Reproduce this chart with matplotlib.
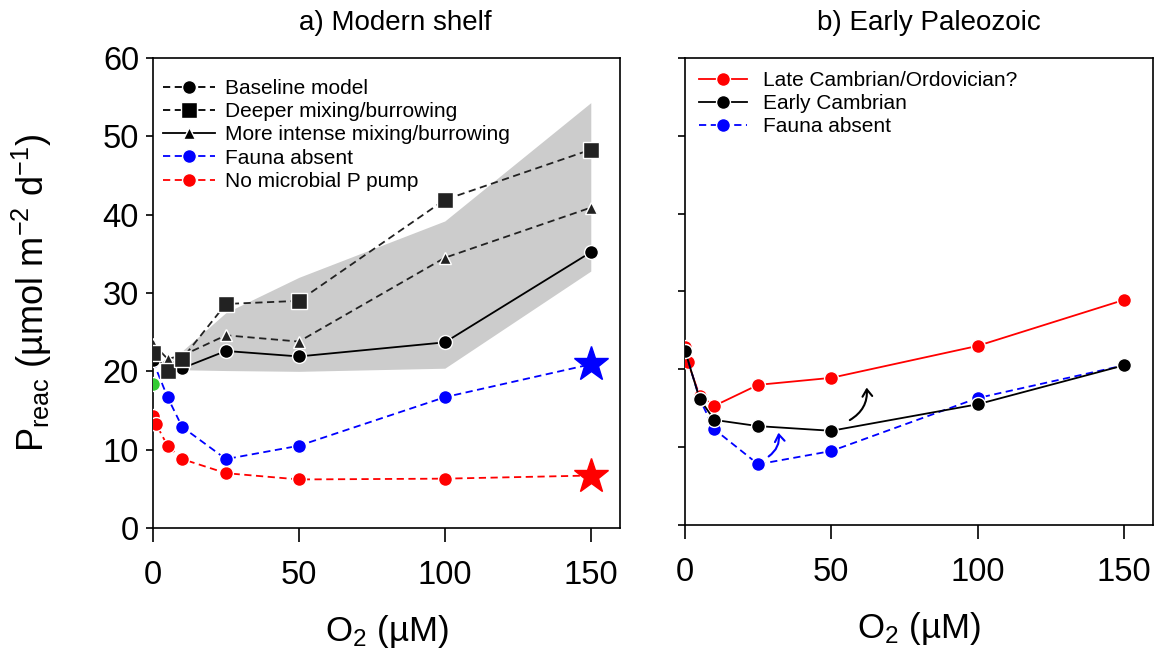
import matplotlib
matplotlib.use("Agg")
import matplotlib.pyplot as plt
from matplotlib.lines import Line2D
from matplotlib.patches import FancyArrowPatch

plt.rcParams['font.family'] = ['Liberation Sans', 'DejaVu Sans']
plt.rcParams['mathtext.default'] = 'regular'

# --- a) Modern shelf ---
o2 = [0, 5, 10, 25, 50, 100, 150]
baseline = [21.4, 20.8, 20.4, 22.6, 21.9, 23.7, 35.2]
deeper = [22.3, 20.1, 21.6, 28.6, 29.0, 41.9, 48.3]
intense = [23.5, 21.6, 22.0, 24.6, 23.8, 34.5, 40.9]

band_x = [5, 10, 25, 50, 100, 150]
band_lo = [20.8, 20.2, 20.1, 20.0, 20.4, 32.8]
band_hi = [21.2, 22.6, 27.5, 32.0, 39.2, 54.3]

fauna_x = [0, 5, 10, 25, 50, 100, 150]
fauna = [21.3, 16.7, 12.9, 8.8, 10.5, 16.7, 20.9]
anoxic_pt = 18.4

nopump_x = [0, 1, 5, 10, 25, 50, 100, 150]
nopump = [14.3, 13.3, 10.5, 8.8, 7.0, 6.2, 6.3, 6.7]

# --- b) Early Paleozoic ---
late_x = [0, 1, 5, 10, 25, 50, 100, 150]
late_camb = [22.8, 20.9, 16.6, 15.3, 18.0, 18.9, 23.0, 28.9]
early_x = [0, 5, 10, 25, 50, 100, 150]
early_camb = [22.4, 16.2, 13.5, 12.7, 12.1, 15.5, 20.5]
absent_b = [22.4, 16.2, 12.3, 7.8, 9.5, 16.3, 20.5]

fig = plt.figure(figsize=(11.66, 6.66), dpi=100)
ax1 = fig.add_axes([0.1312, 0.2072, 0.4005, 0.7057])
ax2 = fig.add_axes([0.5875, 0.2117, 0.4014, 0.7015])

ms = 10
mk = dict(markeredgecolor='white', markeredgewidth=1.0)
dash = (0, (4, 2.5))

# panel a
ax1.fill_between(band_x, band_lo, band_hi, color='#cccccc', lw=0, zorder=1)
ax1.plot(nopump_x, nopump, color='red', ls=dash, lw=1.3, marker='o', ms=ms,
         markevery=list(range(len(nopump_x) - 1)), zorder=3, **mk)
ax1.plot([150], [nopump[-1]], ls='none', marker='*', ms=26, color='red', zorder=4)
ax1.plot(fauna_x, fauna, color='blue', ls=dash, lw=1.3, marker='o', ms=ms,
         markevery=list(range(1, len(fauna_x) - 1)), zorder=3, **mk)
ax1.plot([150], [fauna[-1]], ls='none', marker='*', ms=26, color='blue', zorder=4)
ax1.plot([0], [anoxic_pt], ls='none', marker='o', ms=ms, color='#33cc33', zorder=5, **mk)
ax1.plot(o2, baseline, color='black', lw=1.3, marker='o', ms=ms, zorder=5, **mk)
ax1.plot(o2, intense, color='#222222', ls=dash, lw=1.3, marker='^', ms=8, zorder=6, **mk)
ax1.plot(o2, deeper, color='#222222', ls=dash, lw=1.3, marker='s', ms=11, zorder=7, **mk)

h1 = [
    Line2D([], [], color='black', ls=dash, lw=1.3, marker='o', ms=ms, **mk),
    Line2D([], [], color='black', ls=dash, lw=1.3, marker='s', ms=11, **mk),
    Line2D([], [], color='black', lw=1.3, marker='^', ms=8, **mk),
    Line2D([], [], color='blue', ls=dash, lw=1.3, marker='o', ms=ms, **mk),
    Line2D([], [], color='red', ls=dash, lw=1.3, marker='o', ms=ms, **mk),
]
l1 = ["Baseline model", "Deeper mixing/burrowing", "More intense mixing/burrowing",
      "Fauna absent", "No microbial P pump"]
ax1.legend(h1, l1, loc='upper left', bbox_to_anchor=(0.022, 0.955), frameon=False,
           fontsize=15, handlelength=2.5, handletextpad=0.45, labelspacing=0.2,
           borderpad=0, borderaxespad=0)

# panel b
ax2.plot(late_x, late_camb, color='red', lw=1.3, marker='o', ms=ms, zorder=3, **mk)
ax2.plot(early_x, absent_b, color='blue', ls=dash, lw=1.3, marker='o', ms=ms, zorder=4, **mk)
ax2.plot(early_x, early_camb, color='black', lw=1.3, marker='o', ms=ms, zorder=5, **mk)

h2 = [
    Line2D([], [], color='red', lw=1.3, marker='o', ms=ms, **mk),
    Line2D([], [], color='black', lw=1.3, marker='o', ms=ms, **mk),
    Line2D([], [], color='blue', ls=dash, lw=1.3, marker='o', ms=ms, **mk),
]
l2 = ["Late Cambrian/Ordovician?", "Early Cambrian", "Fauna absent"]
ax2.legend(h2, l2, loc='upper left', bbox_to_anchor=(0.03, 0.972), frameon=False,
           fontsize=15, handlelength=2.3, handletextpad=0.75, labelspacing=0.2,
           borderpad=0, borderaxespad=0)

ax2.add_patch(FancyArrowPatch((55.5, 13.3), (62, 18.0), connectionstyle="arc3,rad=0.35",
                              arrowstyle='->,head_length=5,head_width=3.5', color='black',
                              lw=1.5, zorder=6))
ax2.add_patch(FancyArrowPatch((27.8, 8.6), (31.8, 12.2), connectionstyle="arc3,rad=0.35",
                              arrowstyle='->,head_length=5,head_width=3.5', color='blue',
                              lw=1.5, zorder=6))

for ax in (ax1, ax2):
    ax.set_xlim(0, 160)
    ax.set_ylim(0, 60)
    ax.set_xticks([0, 50, 100, 150])
    ax.set_yticks(range(0, 61, 10))
    ax.tick_params(axis='x', direction='out', length=10, width=1.2, labelsize=23.5, pad=13)
    ax.tick_params(axis='y', direction='out', length=5, width=1.2, labelsize=23.5, pad=5)
    ax.set_xlabel("O$_2$ (µM)", fontsize=25, labelpad=16)
    for s in ax.spines.values():
        s.set_linewidth(1.2)

ax2.tick_params(axis='y', labelleft=False)
ax1.set_title("a) Modern shelf", fontsize=20, pad=20, x=0.52)
ax2.set_title("b) Early Paleozoic", fontsize=20, pad=20, x=0.52)
ax1.set_ylabel("P$_{reac}$ (µmol m$^{-2}$ d$^{-1}$)", fontsize=26, labelpad=35)

fig.savefig("out.png", dpi=100)
